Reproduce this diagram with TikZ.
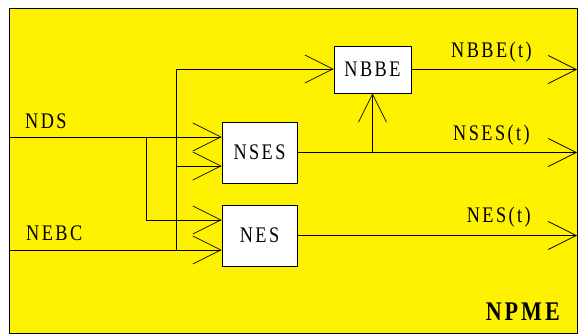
\documentclass[tikz,border=0pt]{standalone}
\usepackage{fontspec}
\usepackage{tikz}
\usetikzlibrary{arrows.meta,positioning}
\newfontfamily\lblfam[FakeStretch=0.82,LetterSpace=11]{Liberation Serif}
\newcommand{\lblfont}{\lblfam\fontsize{19}{22}\selectfont}
\begin{document}
\begin{tikzpicture}[
    x=0.03cm,
    y=-0.03cm,
    font=\lblfont,
    blk/.style={rectangle, draw=black, line width=0.6pt, fill=white, inner sep=0pt},
    sig/.style={line width=0.6pt, draw=black},
    arr/.style={sig, -{Straight Barb[length=8.4mm, width=8.4mm, line width=0.6pt]}}
  ]
    % frame
    \useasboundingbox (0,0) rectangle (581,336);
    \draw[sig, fill=yellow] (9,8) rectangle (577,333);

    % blocks
    \node[blk, minimum width=22.5mm, minimum height=18.3mm] (nses) at (259.5,152.5) {NSES};
    \node[blk, minimum width=22.5mm, minimum height=18.3mm] (nes) at (259.5,235.5) {NES};
    \node[blk, minimum width=23.1mm, minimum height=14.1mm] (nbbe) at (372.5,69.5) {NBBE};

    % points on the wires
    \coordinate (nds) at (9,137);
    \coordinate (nebc) at (9,250);
    \coordinate (j1) at (146,137);
    \coordinate (nesin) at (146,220);
    \coordinate (j2) at (176,250);
    \coordinate (nsesin) at (176,166);
    \coordinate (bend) at (176,69);
    \coordinate (tap) at (372.5,152.5);
    \coordinate (obbe) at (577,69.5);
    \coordinate (oses) at (577,152.5);
    \coordinate (oes) at (577,235.5);

    % inputs
    \draw[arr] (nds) -- (nds -| nses.west);
    \draw[arr] (nebc) -- (nebc -| nes.west);
    \draw[arr] (j1) -- (nesin) -- (nesin -| nes.west);
    \draw[sig] (j2) -- (nsesin);
    \draw[arr] (nsesin) -- (nsesin -| nses.west);
    \draw[arr] (nsesin) -- (bend) -- (bend -| nbbe.west);

    % outputs
    \draw[arr] (nbbe.east) -- (obbe);
    \draw[arr] (nses.east) -- (oses);
    \draw[arr] (nes.east) -- (oes);
    \draw[arr] (tap) -- (nbbe.south);

    % labels
    \node[anchor=base west, inner sep=0pt] (ndslbl) at (25,128) {NDS};
    \node[anchor=base west, inner sep=0pt] (nebclbl) at (26,240) {NEBC};
    \node[anchor=base east, inner sep=0pt] (nbbelbl) at (532,57) {NBBE(t)};
    \node[anchor=base east, inner sep=0pt] (nseslbl) at (530,140) {NSES(t)};
    \node[anchor=base east, inner sep=0pt] (neslbl) at (531,222) {NES(t)};
    \node[anchor=base east, inner sep=0pt, font=\lblfam\fontsize{23}{26}\selectfont\bfseries] (npme) at (560,320) {NPME};
\end{tikzpicture}
\end{document}
